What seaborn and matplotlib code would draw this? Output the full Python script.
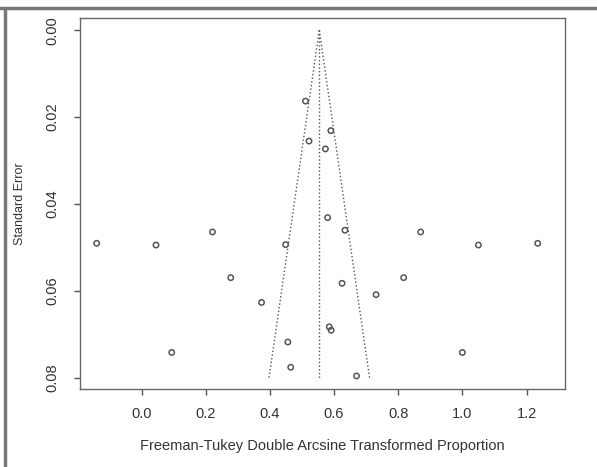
#! /usr/bin/env python3
# -*- coding: utf-8 -*-

import numpy as np
import pandas as pd
import matplotlib
matplotlib.use('Agg')
import matplotlib.pyplot as plt
from matplotlib.lines import Line2D
import seaborn as sns

## dados (funnel plot)
proporcao = [0.511, 0.590, 0.522, 0.573, 0.580, 0.634, 0.449, 0.625, 0.731,
             0.585, 0.591, 0.456, 0.465, 0.670, -0.140, 0.045, 0.221, 0.278,
             0.374, 0.094, 0.870, 1.050, 1.235, 0.817, 1.000]
erro_padrao = [0.0163, 0.0231, 0.0255, 0.0273, 0.0431, 0.0460, 0.0493, 0.0582,
               0.0608, 0.0682, 0.0690, 0.0717, 0.0775, 0.0795, 0.0490, 0.0494,
               0.0464, 0.0569, 0.0626, 0.0741, 0.0464, 0.0494, 0.0490, 0.0569,
               0.0741]
estimativa = 0.554
se_max = 0.08
x_ticks = [0.0, 0.2, 0.4, 0.6, 0.8, 1.0, 1.2]
y_ticks = [0.00, 0.02, 0.04, 0.06, 0.08]

df = pd.DataFrame({'prop': proporcao, 'se': erro_padrao})

sns.set_theme(style='ticks')
plt.rcParams['font.family'] = ['Liberation Sans', 'DejaVu Sans']

fig = plt.figure(figsize=(5.97, 4.67), dpi=100)
ax = fig.add_axes([80/597, 1-389/467, 485/597, 371/467])

## funil
ax.plot([estimativa, estimativa], [0, se_max], ls=':', color='#555555', lw=1)
ax.plot([estimativa, estimativa - 1.96*se_max], [0, se_max], ls=':', color='#555555', lw=1)
ax.plot([estimativa, estimativa + 1.96*se_max], [0, se_max], ls=':', color='#555555', lw=1)

sns.scatterplot(data=df, x='prop', y='se', ax=ax, marker='o', s=15,
                facecolor='none', edgecolor='#555555', linewidth=1.1)

ax.set_xlim(-0.192, 1.320)
ax.set_ylim(0.0825, -0.0028)
ax.set_xticks(x_ticks)
ax.set_xticklabels([f'{v:.1f}' for v in x_ticks], fontsize=10.5, color='#333333')
ax.set_yticks(y_ticks)
ax.set_yticklabels([f'{v:.2f}' for v in y_ticks], fontsize=10.5, color='#333333',
                   rotation=90, va='center')
ax.tick_params(direction='out', length=4, width=1, color='#555555')
ax.tick_params(axis='x', pad=9)
ax.tick_params(axis='y', pad=11)
for s in ax.spines.values():
    s.set_color('#666666')
    s.set_linewidth(1)

ax.set_xlabel('Freeman-Tukey Double Arcsine Transformed Proportion',
              fontsize=10.5, color='#333333', labelpad=13)
ax.set_ylabel('Standard Error', fontsize=9, color='#333333', labelpad=14)

## moldura da captura de tela
fig.add_artist(Line2D([0, 1], [1-8/467, 1-8/467], color='#777777', lw=2.5))
fig.add_artist(Line2D([5/597, 5/597], [0, 1-8/467], color='#777777', lw=2.5))

fig.savefig('out.png', dpi=100)
